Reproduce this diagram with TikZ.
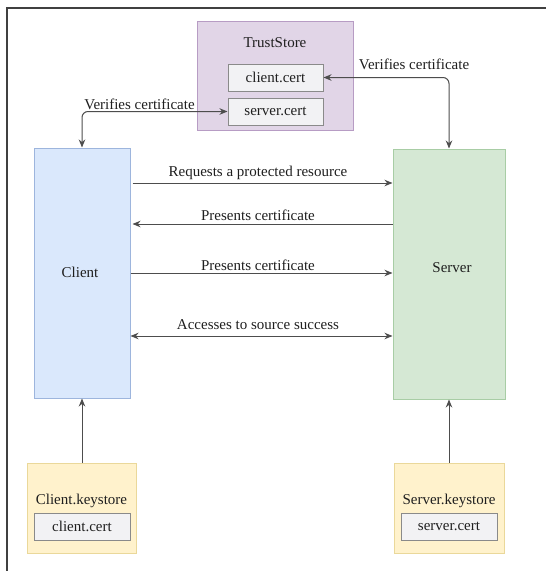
\documentclass[tikz,border=0pt]{standalone}
\usepackage{fontspec}
\setmainfont{Liberation Serif}
\usetikzlibrary{arrows.meta}
\definecolor{purfill}{HTML}{E1D5E7}\definecolor{purdraw}{HTML}{B79CC4}
\definecolor{bluefill}{HTML}{DAE8FC}\definecolor{bluedraw}{HTML}{9DB5DD}
\definecolor{grnfill}{HTML}{D5E8D4}\definecolor{grndraw}{HTML}{A8CDA5}
\definecolor{ylwfill}{HTML}{FFF2CC}\definecolor{ylwdraw}{HTML}{EAD89A}
\definecolor{gryfill}{HTML}{F2F2F4}\definecolor{grydraw}{HTML}{8A8A8A}
\definecolor{linecol}{HTML}{4D4D4D}
\begin{document}
\begin{tikzpicture}[x=1pt,y=-1pt,
  every node/.style={font=\fontsize{15}{17}\selectfont, text=black!88},
  box/.style={draw, line width=1pt, inner sep=0pt},
  purbox/.style={box, fill=purfill, draw=purdraw},
  bluebox/.style={box, fill=bluefill, draw=bluedraw},
  grnbox/.style={box, fill=grnfill, draw=grndraw},
  ylwbox/.style={box, fill=ylwfill, draw=ylwdraw},
  certbox/.style={box, fill=gryfill, draw=grydraw, minimum width=95pt, minimum height=27pt},
  conn/.style={draw=linecol, line width=1pt, -{Stealth[length=8pt,width=6.5pt]}},
  biconn/.style={draw=linecol, line width=1pt, {Stealth[length=8pt,width=6.5pt]}-{Stealth[length=8pt,width=6.5pt]}},
  lbl/.style={inner sep=1pt}
]
\useasboundingbox (0,0) rectangle (546,571);
\fill[white] (0,0) rectangle (546,571);
% frame
\draw[line width=1.6pt, draw=black!75] (546,8) -- (7,8) -- (7,571);

% TrustStore
\node[purbox, minimum width=156pt, minimum height=109pt] (trust) at (275,75.5) {};
\node[lbl] (trustlbl) at (275,43) {TrustStore};
\node[certbox] (tccert) at (275.5,77.5) {client.cert};
\node[certbox] (tscert) at (275.5,111.5) {server.cert};

% Client / Server
\node[bluebox, minimum width=96pt, minimum height=250pt] (client) at (82,273) {};
\node[lbl] (clientlbl) at (80,272) {Client};
\node[grnbox, minimum width=112pt, minimum height=250pt] (server) at (449,274) {};
\node[lbl] (serverlbl) at (452,268) {Server};

% keystores
\node[ylwbox, minimum width=109pt, minimum height=90pt] (ckey) at (81.5,508) {};
\node[lbl] (ckeylbl) at (81.5,501) {Client.keystore};
\node[certbox, minimum width=96pt] (kccert) at (82,526.5) {client.cert};
\node[ylwbox, minimum width=110pt, minimum height=90pt] (skey) at (449,508) {};
\node[lbl] (skeylbl) at (449,501) {Server.keystore};
\node[certbox, minimum width=96pt] (kscert) at (449,526.5) {server.cert};

% verify connectors
\draw[biconn, rounded corners=6pt] (tscert.west) -| (client.north);
\node[lbl] (vleft) at (139.5,104) {Verifies certificate};
\draw[biconn, rounded corners=6pt] (tccert.east) -| (server.north);
\node[lbl] (vright) at (414,64) {Verifies certificate};

% horizontal messages
\draw[conn] ([xshift=2pt]client.east |- 0,183) -- (server.west |- 0,183);
\node[lbl] (m1) at (258,173) {Requests a protected resource};
\draw[conn] (server.west |- 0,224) -- ([xshift=2pt]client.east |- 0,224);
\node[lbl] (m2) at (258,215) {Presents certificate};
\draw[conn] (client.east |- 0,273) -- (server.west |- 0,273);
\node[lbl] (m3) at (258,265) {Presents certificate};
\draw[biconn] (client.east |- 0,336) -- (server.west |- 0,336);
\node[lbl] (m4) at (258,325) {Accesses to source success};

% keystore to boxes
\draw[conn] (ckey.north -| client.south) -- (client.south);
\draw[conn] (skey.north -| server.south) -- (server.south);
\end{tikzpicture}
\end{document}
